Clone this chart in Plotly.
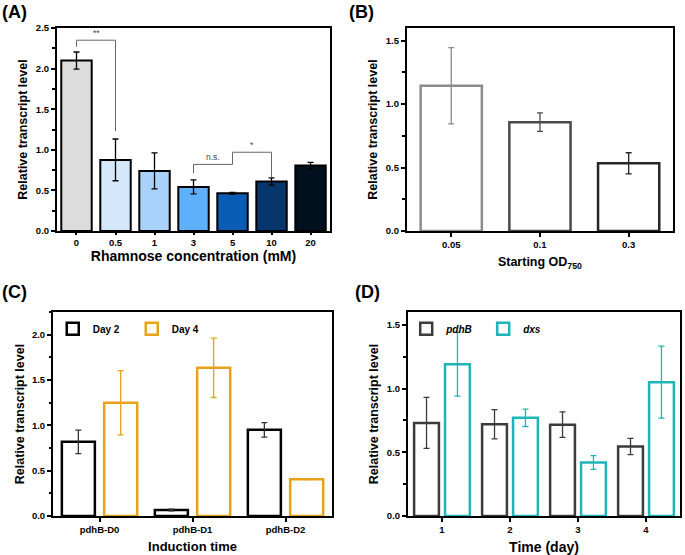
import plotly.graph_objects as go

FONT = "Liberation Sans"

# (A) rhamnose concentration
rham_labels = ["0", "0.5", "1", "3", "5", "10", "20"]
rham_values = [2.10, 0.876, 0.74, 0.543, 0.465, 0.609, 0.806]
rham_err = [0.105, 0.257, 0.222, 0.087, 0.01, 0.045, 0.04]
rham_colors = ["#dcdcdc", "#d4e7fb", "#a8d2fb", "#5eb0fb", "#0a5cb4", "#06366c", "#01101f"]

# significance brackets in (A)
sig_left = [0, 3, 4]
sig_right = [1, 4, 5]
sig_top = [2.35, 0.82, 0.97]
sig_left_end = [2.27, 0.71, 0.82]
sig_right_end = [1.23, 0.82, 0.66]
sig_text = ["**", "n.s.", "*"]

# (B) starting OD750
od_labels = ["0.05", "0.1", "0.3"]
od_values = [1.145, 0.858, 0.534]
od_err = [0.30, 0.073, 0.083]
od_colors = ["#8c8c8c", "#4a4a4a", "#262626"]

# (C) induction time
ind_labels = ["pdhB-D0", "pdhB-D1", "pdhB-D2"]
day2_values = [0.818, 0.066, 0.95]
day2_err = [0.13, 0.01, 0.08]
day4_values = [1.249, 1.635, 0.405]
day4_err = [0.355, 0.328, 0.005]

# (D) time course
day_labels = ["1", "2", "3", "4"]
pdhb_values = [0.73, 0.72, 0.716, 0.545]
pdhb_err = [0.20, 0.115, 0.10, 0.064]
dxs_values = [1.19, 0.77, 0.42, 1.05]
dxs_err = [0.25, 0.068, 0.054, 0.283]

fig = go.Figure()

# panel A
fig.add_trace(go.Bar(
    x=list(range(len(rham_labels))), y=rham_values, width=0.78,
    marker=dict(color=rham_colors, line=dict(color="black", width=2)),
    error_y=dict(type="data", array=rham_err, color="black", thickness=1.3, width=3),
    xaxis="x", yaxis="y", showlegend=False))

for i in range(len(sig_text)):
    xl, xr = sig_left[i], sig_right[i]
    fig.add_trace(go.Scatter(
        x=[xl, xl, xr, xr], y=[sig_left_end[i], sig_top[i], sig_top[i], sig_right_end[i]],
        mode="lines", line=dict(color="#666666", width=1),
        xaxis="x", yaxis="y", showlegend=False, hoverinfo="skip"))
    fig.add_annotation(x=(xl + xr) / 2, y=sig_top[i], xref="x", yref="y",
                       text=sig_text[i], showarrow=False, yanchor="bottom", yshift=0,
                       font=dict(family=FONT, size=8.5, color="#444444"))

# panel B
for i, lab in enumerate(od_labels):
    fig.add_trace(go.Bar(
        x=[i], y=[od_values[i]], width=0.69,
        marker=dict(color="white", line=dict(color=od_colors[i], width=2.5)),
        error_y=dict(type="data", array=[od_err[i]], color=od_colors[i], thickness=1.3, width=3),
        xaxis="x2", yaxis="y2", showlegend=False))

# panel C
cx = list(range(len(ind_labels)))
fig.add_trace(go.Bar(
    x=cx, y=day2_values, name="Day 2", width=0.355, offset=-0.405,
    marker=dict(color="white", line=dict(color="black", width=2.5)),
    error_y=dict(type="data", array=day2_err, color="#333333", thickness=1.3, width=3),
    xaxis="x3", yaxis="y3", legend="legend"))
fig.add_trace(go.Bar(
    x=cx, y=day4_values, name="Day 4", width=0.355, offset=0.05,
    marker=dict(color="white", line=dict(color="#e8a21a", width=2.5)),
    error_y=dict(type="data", array=day4_err, color="#e8a21a", thickness=1.3, width=3),
    xaxis="x3", yaxis="y3", legend="legend"))

# panel D
dx = list(range(len(day_labels)))
fig.add_trace(go.Bar(
    x=dx, y=pdhb_values, name="<i>pdhB</i>", width=0.365, offset=-0.41,
    marker=dict(color="white", line=dict(color="#3c3c3c", width=2.5)),
    error_y=dict(type="data", array=pdhb_err, color="#3c3c3c", thickness=1.3, width=3),
    xaxis="x4", yaxis="y4", legend="legend2"))
fig.add_trace(go.Bar(
    x=dx, y=dxs_values, name="<i>dxs</i>", width=0.365, offset=0.045,
    marker=dict(color="white", line=dict(color="#1db5b8", width=2.5)),
    error_y=dict(type="data", array=dxs_err, color="#1db5b8", thickness=1.3, width=3),
    xaxis="x4", yaxis="y4", legend="legend2"))

tickfont = dict(family=FONT, size=9.5, color="black", weight="bold")
ytitlefont = dict(family=FONT, size=12.5, color="black", weight="bold")


def xax(domain, anchor, labels, title, size=13, standoff=8, ticklen=4):
    return dict(domain=domain, anchor=anchor, range=[-0.5, len(labels) - 0.5],
                tickvals=list(range(len(labels))), ticktext=labels, automargin=False,
                showline=True, linewidth=2, linecolor="black", mirror=True,
                ticks="outside", ticklen=ticklen, tickwidth=1.5, tickcolor="black",
                tickfont=tickfont, showgrid=False, zeroline=False,
                title=dict(text=title, standoff=standoff,
                           font=dict(family=FONT, size=size, color="black", weight="bold")))


def yax(domain, anchor, rng):
    return dict(domain=domain, anchor=anchor, range=rng, dtick=0.5, tickformat=".1f",
                automargin=False,
                showline=True, linewidth=2, linecolor="black", mirror=True,
                ticks="outside", ticklen=4, tickwidth=1.5, tickcolor="black",
                minor=dict(dtick=0.25, ticks="outside", ticklen=2.5, tickcolor="black"),
                tickfont=tickfont, showgrid=False, zeroline=False,
                title=dict(text="Relative transcript level", font=ytitlefont, standoff=5))


top_dom = [0.5838, 0.9495]
bot_dom = [0.0703, 0.4378]

fig.update_layout(
    width=685, height=555,
    margin=dict(l=0, r=0, t=0, b=0, autoexpand=False),
    paper_bgcolor="white", plot_bgcolor="white",
    font=dict(family=FONT, color="black"),
    barmode="overlay",
    xaxis=xax([0.0832, 0.4818], "y", rham_labels, "Rhamnose concentration (mM)", 14, 4, 2),
    yaxis=yax(top_dom, "x", [0, 2.5]),
    xaxis2=xax([0.594, 0.9825], "y2", od_labels, "Starting OD<sub>750</sub>", 12.5, 8),
    yaxis2=yax(top_dom, "x2", [0, 1.6]),
    xaxis3=xax([0.0774, 0.4847], "y3", ind_labels, "Induction time", 13, 8),
    yaxis3=yax(bot_dom, "x3", [0, 2.25]),
    xaxis4=xax([0.5956, 0.9927], "y4", day_labels, "Time (day)", 14, 8),
    yaxis4=yax(bot_dom, "x4", [0, 1.6]),
    legend=dict(x=0.077, y=0.434, xanchor="left", yanchor="top", orientation="h",
                bgcolor="rgba(0,0,0,0)",
                font=dict(family=FONT, size=10, color="black", weight="bold"),
                itemwidth=30, entrywidth=34, tracegroupgap=0),
    legend2=dict(x=0.593, y=0.434, xanchor="left", yanchor="top", orientation="h",
                 bgcolor="rgba(0,0,0,0)",
                 font=dict(family=FONT, size=10, color="black", weight="bold"),
                 itemwidth=30, entrywidth=32, tracegroupgap=0),
)

for lab, xp, yp in [("(A)", 0.0, 1.0), ("(B)", 0.5066, 1.0), ("(C)", 0.0, 0.495), ("(D)", 0.515, 0.495)]:
    fig.add_annotation(text=lab, x=xp, y=yp, xref="paper", yref="paper",
                       xanchor="left", yanchor="top", showarrow=False,
                       font=dict(family=FONT, size=18, color="black", weight="bold"))

# drop the browser's default body margin so the figure sits at the window corner
fig.write_html("out.html", config={"displayModeBar": False},
               post_script="document.body.style.margin='0px';")
